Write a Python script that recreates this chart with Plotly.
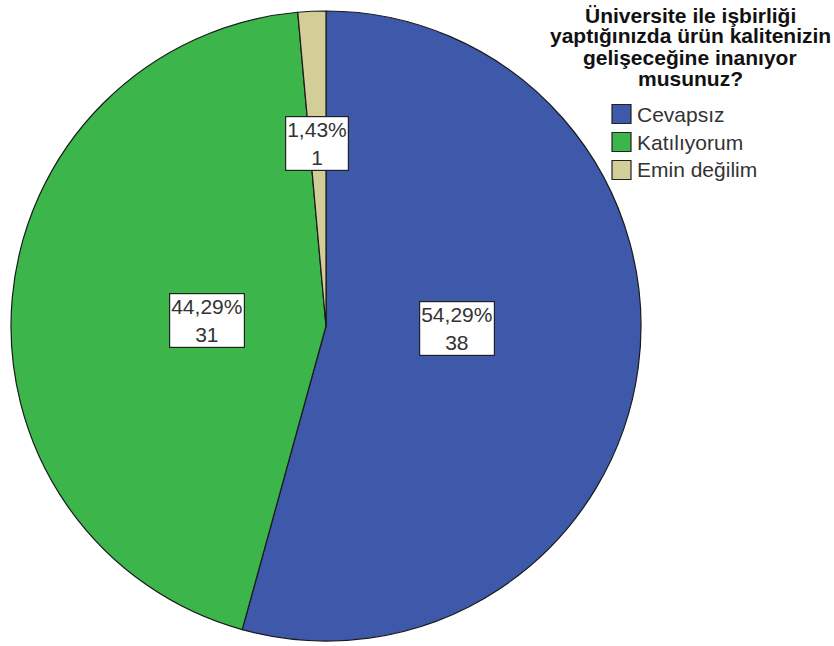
import math
import plotly.graph_objects as go

labels = ["Cevapsız", "Katılıyorum", "Emin değilim"]
counts = [38, 31, 1]
pct_text = ["54,29%", "44,29%", "1,43%"]
colors = ["#3E58AA", "#3CB54A", "#D3CE97"]
label_radius = [0.415, 0.50, 0.667]
label_angle_nudge = [-6.8, -3.3, 0.0]
title_lines = ["Üniversite ile işbirliği", "yaptığınızda ürün kalitenizin",
               "gelişeceğine inanıyor", "musunuz?"]

W, H = 834, 646
cx, cy, R = 326, 326, 315


def px(x):
    return x / W


def py(y):
    return 1 - y / H


fig = go.Figure(go.Pie(
    labels=labels, values=counts, sort=False, direction="clockwise",
    rotation=0, marker=dict(colors=colors, line=dict(color="#1a1a1a", width=1.2)),
    textinfo="none", hoverinfo="label+value+percent", showlegend=False,
    domain=dict(x=[(cx - R) / W, (cx + R) / W], y=[1 - (cy + R) / H, 1 - (cy - R) / H]),
))

total = sum(counts)
annotations = []
shapes = []
cum = 0
for i, c in enumerate(counts):
    mid = math.radians((cum + c / 2) / total * 360 + label_angle_nudge[i])
    cum += c
    r = label_radius[i] * R
    x = cx + r * math.sin(mid)
    y = cy - r * math.cos(mid)
    annotations.append(dict(
        x=x / W, y=1 - y / H, xref="paper", yref="paper",
        text=f"{pct_text[i]}<br>{c}", showarrow=False,
        font=dict(family="Arial", size=21, color="#333333"),
        bgcolor="white", bordercolor="#222222", borderwidth=1.2, borderpad=1,
    ))

# legend title, one annotation per line for tight spacing
title_y = [15, 36, 57, 78]
for t, ty in zip(title_lines, title_y):
    annotations.append(dict(
        x=px(690), y=py(ty), xref="paper", yref="paper", xanchor="center", yanchor="middle",
        text=f"<b>{t}</b>", showarrow=False,
        font=dict(family="Arial", size=21, color="#111111"),
    ))

# legend items
item_y = [114, 142, 170]
for lab, col, iy in zip(labels, colors, item_y):
    shapes.append(dict(type="rect", xref="paper", yref="paper",
                       x0=px(612), x1=px(631), y0=py(iy - 9.5), y1=py(iy + 9.5),
                       fillcolor=col, line=dict(color="#222222", width=1.2)))
    annotations.append(dict(
        x=px(635), y=py(iy), xref="paper", yref="paper", xanchor="left", yanchor="middle",
        text=lab, showarrow=False,
        font=dict(family="Arial", size=21, color="#333333"),
    ))

fig.update_layout(
    width=W, height=H, margin=dict(l=0, r=0, t=0, b=0),
    paper_bgcolor="white", plot_bgcolor="white",
    annotations=annotations, shapes=shapes,
    showlegend=False,
)

fig.write_html("out.html", config={"displayModeBar": False},
               post_script="document.body.style.margin='0';")
